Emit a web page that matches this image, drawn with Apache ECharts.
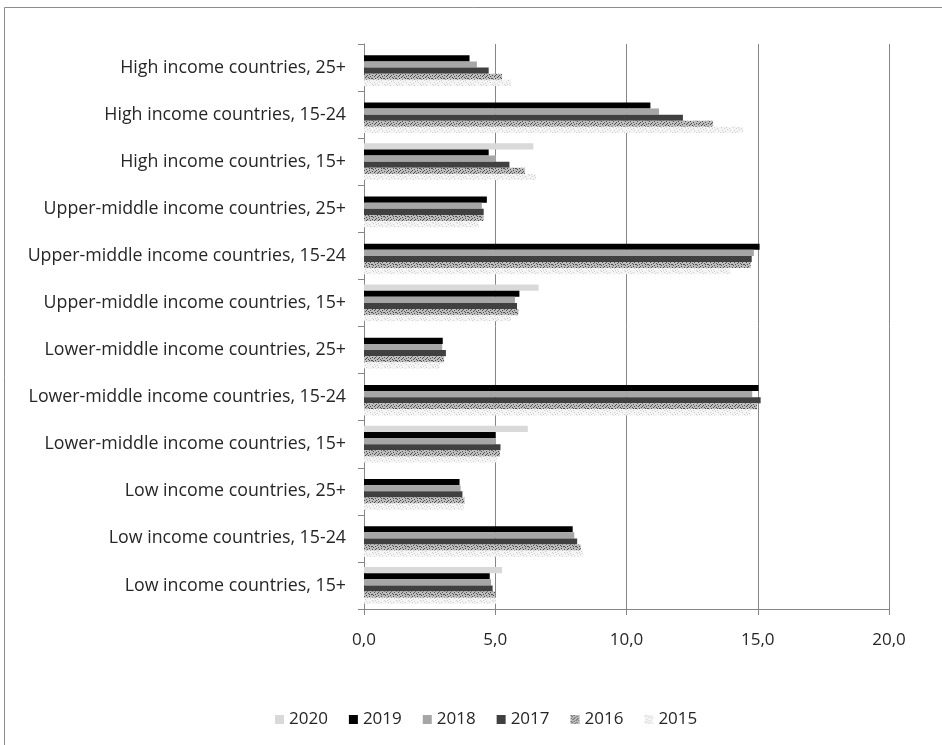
<!DOCTYPE html>
<html>
<head>
<meta charset="utf-8">
<script src="https://cdn.jsdelivr.net/npm/echarts@6/dist/echarts.min.js"></script>
<style>
html,body{margin:0;padding:0;background:#fff;}
#chart{width:942px;height:745px;}
</style>
</head>
<body>
<div id="chart"></div>
<script>
const categories = [
  "High income countries, 25+",
  "High income countries, 15-24",
  "High income countries, 15+",
  "Upper-middle income countries, 25+",
  "Upper-middle income countries, 15-24",
  "Upper-middle income countries, 15+",
  "Lower-middle income countries, 25+",
  "Lower-middle income countries, 15-24",
  "Lower-middle income countries, 15+",
  "Low income countries, 25+",
  "Low income countries, 15-24",
  "Low income countries, 15+"
];
const seriesNames = ["2020", "2019", "2018", "2017", "2016", "2015"];
const v2020 = [null, null, 6.45, null, null, 6.65, null, null, 6.24, null, null, 5.26];
const v2019 = [4.02, 10.91, 4.75, 4.68, 15.07, 5.92, 3.00, 15.03, 5.01, 3.64, 7.95, 4.79];
const v2018 = [4.30, 11.24, 5.03, 4.49, 14.85, 5.75, 2.98, 14.79, 5.03, 3.68, 8.01, 4.84];
const v2017 = [4.75, 12.15, 5.54, 4.56, 14.77, 5.83, 3.12, 15.11, 5.20, 3.75, 8.12, 4.90];
const v2016 = [5.26, 13.30, 6.13, 4.55, 14.73, 5.88, 3.05, 14.98, 5.18, 3.83, 8.26, 4.99];
const v2015 = [5.60, 14.45, 6.55, 4.37, 13.94, 5.60, 2.90, 14.73, 5.06, 3.80, 8.35, 5.03];
const xTicks = [0, 5, 10, 15, 20];

function makePattern(dark, light, density) {
  const c = document.createElement('canvas');
  c.width = 12; c.height = 6;
  const g = c.getContext('2d');
  g.fillStyle = light; g.fillRect(0, 0, 12, 6);
  g.fillStyle = dark;
  const pts = [[0,0],[1,1],[3,0],[4,2],[6,1],[7,3],[9,2],[10,4],[2,4],[5,5],[8,5],[11,0],[0,3],[3,3],[6,4],[9,0]];
  for (let i = 0; i < Math.min(density, pts.length); i++) {
    g.fillRect(pts[i][0], pts[i][1], 1, 1);
  }
  return { image: c, repeat: 'repeat' };
}

const colors = [
  '#d9d9d9',
  '#000000',
  '#a6a6a6',
  '#404040',
  makePattern('#505050', '#bdbdbd', 16),
  makePattern('#cfcfcf', '#f4f4f4', 10)
];
const dataArr = [v2020, v2019, v2018, v2017, v2016, v2015];

const chart = echarts.init(document.getElementById('chart'));
const font = '"Open Sans", Lato, sans-serif';
chart.setOption({
  animation: false,
  backgroundColor: '#fff',
  graphic: [{
    type: 'rect', shape: { x: 4.5, y: 7.5, width: 945, height: 745 },
    style: { fill: 'none', stroke: '#8c8c8c', lineWidth: 1 }, silent: true
  }],
  grid: { left: 364, right: 53, top: 44, bottom: 136, containLabel: false },
  legend: {
    bottom: 12, left: 270,
    data: seriesNames,
    itemWidth: 9, itemHeight: 9, itemGap: 21,
    icon: 'rect',
    textStyle: { fontFamily: font, fontSize: 17, color: '#262626' }
  },
  xAxis: {
    type: 'value', min: 0, max: 20, interval: 5,
    axisLine: { show: true, lineStyle: { color: '#868686' } },
    axisTick: { show: true, length: 6, lineStyle: { color: '#868686' } },
    splitLine: { show: true, lineStyle: { color: '#868686' } },
    axisLabel: {
      margin: 23, fontFamily: font, fontSize: 17, color: '#262626',
      formatter: v => v.toFixed(1).replace('.', ',')
    }
  },
  yAxis: {
    type: 'category', data: categories, inverse: true,
    axisLine: { show: true, lineStyle: { color: '#868686' } },
    axisTick: { show: true, length: 6, lineStyle: { color: '#868686' } },
    axisLabel: { margin: 18, fontFamily: font, fontSize: 17.8, color: '#262626', padding: [4, 0, 0, 0] }
  },
  series: seriesNames.map((n, i) => ({
    name: n, type: 'bar', data: dataArr[i],
    barGap: '0%', barCategoryGap: '22%',
    itemStyle: { color: colors[i] }
  }))
});
</script>
</body>
</html>
